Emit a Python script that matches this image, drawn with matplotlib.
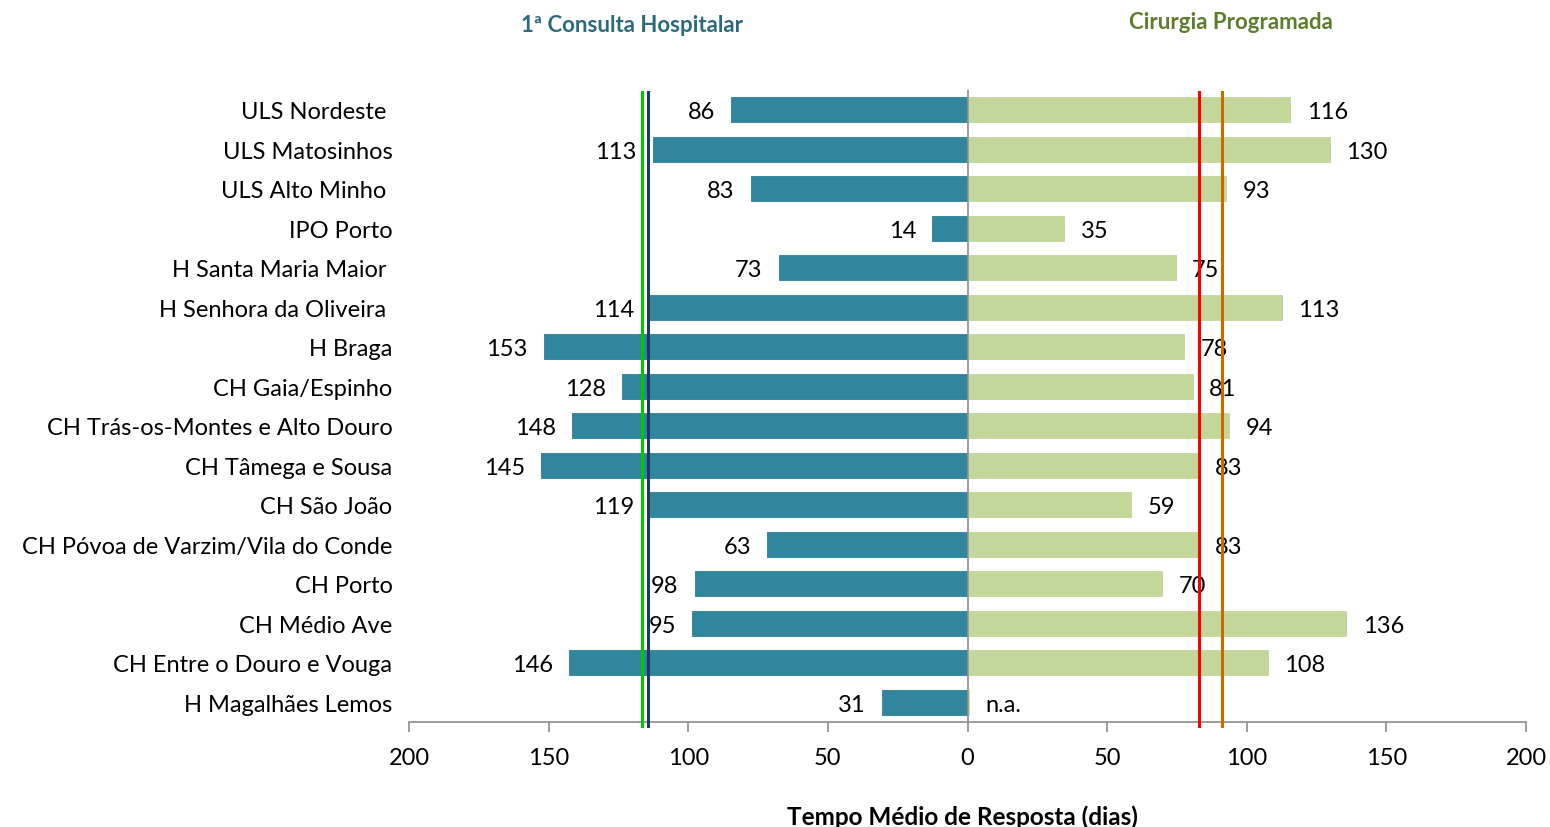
import matplotlib.pyplot as plt
from matplotlib.ticker import FixedLocator

plt.rcParams['font.family'] = ['Lato', 'DejaVu Sans']

# Hospitais (de cima para baixo)
hospitais = ["ULS Nordeste ", "ULS Matosinhos", "ULS Alto Minho ", "IPO Porto",
             "H Santa Maria Maior ", "H Senhora da Oliveira ", "H Braga",
             "CH Gaia/Espinho", "CH Trás-os-Montes e Alto Douro",
             "CH Tâmega e Sousa", "CH São João",
             "CH Póvoa de Varzim/Vila do Conde", "CH Porto", "CH Médio Ave",
             "CH Entre o Douro e Vouga", "H Magalhães Lemos"]

# 1ª Consulta Hospitalar (comprimento das barras)
consulta = [85, 113, 78, 13, 68, 114, 152, 124, 142, 153, 114, 72, 98, 99, 143, 31]
consulta_lbl = ["86", "113", "83", "14", "73", "114", "153", "128", "148",
                "145", "119", "63", "98", "95", "146", "31"]

# Cirurgia Programada
cirurgia = [116, 130, 93, 35, 75, 113, 78, 81, 94, 83, 59, 83, 70, 136, 108, 0.8]
cirurgia_lbl = ["116", "130", "93", "35", "75", "113", "78", "81", "94",
                "83", "59", "83", "70", "136", "108", "n.a."]

# linhas de referência
ref_consulta = [(116.5, "#00C800"), (114.3, "#1F3864")]
ref_cirurgia = [(83, "#FF0000"), (91.3, "#CC6A00")]

fig = plt.figure(figsize=(15.5, 8.28), dpi=100)
ax = fig.add_axes([0.2639, 0.1268, 0.7206, 0.7632])

y = list(range(len(hospitais)))
ax.barh(y, [-v for v in consulta], height=0.68, color="#31859C",
        edgecolor="white", linewidth=0.8, zorder=2)
ax.barh(y, cirurgia, height=0.68, color="#C4D79B",
        edgecolor="white", linewidth=0.8, zorder=2)

for i in y:
    ax.annotate(consulta_lbl[i], (-consulta[i], i), xytext=(-11, -1.5),
                textcoords="offset points", ha="right", va="center",
                fontsize=17, color="black")
    ax.annotate(cirurgia_lbl[i], (cirurgia[i], i), xytext=(11, -1.5),
                textcoords="offset points", ha="left", va="center",
                fontsize=17, color="black")

for v, c in ref_consulta:
    ax.plot([-v, -v], [-0.45, 15.6], color=c, linewidth=2.2, zorder=4,
            clip_on=False)
for v, c in ref_cirurgia:
    ax.plot([v, v], [-0.45, 15.6], color=c, linewidth=2.2, zorder=4,
            clip_on=False)

ax.axvline(0, color="#8C8C8C", linewidth=1.2, zorder=3)

ax.set_xlim(-200, 200)
ax.set_ylim(15.5, -0.5)
ax.set_yticks(y)
ax.set_yticklabels(hospitais, fontsize=17)
ax.tick_params(axis="y", length=0, pad=12)
for lab in ax.get_yticklabels():
    lab.set_y(lab.get_position()[1])

ticks = [-200, -150, -100, -50, 0, 50, 100, 150, 200]
ax.xaxis.set_major_locator(FixedLocator(ticks))
ax.set_xticklabels([str(abs(t)) for t in ticks], fontsize=17)
ax.tick_params(axis="x", length=7, width=1.2, color="#8C8C8C", pad=11)

for s in ["top", "right", "left"]:
    ax.spines[s].set_visible(False)
ax.spines["bottom"].set_color("#8C8C8C")
ax.spines["bottom"].set_linewidth(1.2)

fig.text(0.408, 0.969, "1ª Consulta Hospitalar", ha="center", va="center",
         fontsize=16, fontweight="bold", color="#2B6A7C")
fig.text(0.794, 0.973, "Cirurgia Programada", ha="center", va="center",
         fontsize=16, fontweight="bold", color="#5E7D2A")
fig.text(0.621, 0.013, "Tempo Médio de Resposta (dias)", ha="center",
         va="center", fontsize=17.5, fontweight="bold", color="black")

fig.savefig("out.png", dpi=100)
